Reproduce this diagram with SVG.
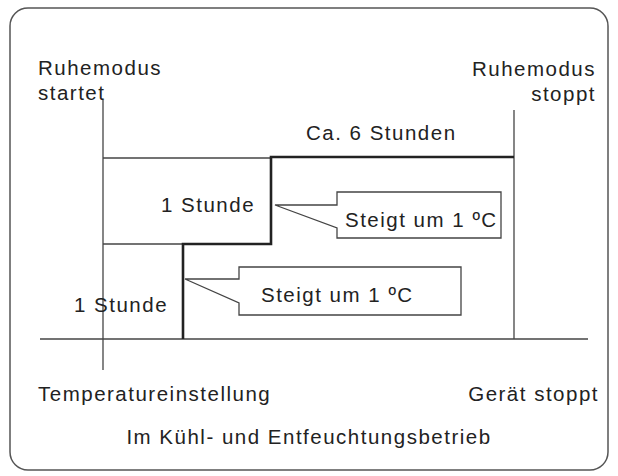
<svg xmlns="http://www.w3.org/2000/svg" width="618" height="476" viewBox="0 0 618 476">
<style>
text{font-family:"Liberation Sans",Arial,sans-serif;font-size:20.5px;letter-spacing:1.5px;fill:#222}
.t{stroke:#444;stroke-width:1.3;fill:none}
.k{stroke:#222;stroke-width:2.6;fill:none}
.c{stroke:#444;stroke-width:1.3;fill:#fff}
</style>
<rect x="10" y="8" width="598" height="462" rx="18" fill="#fff" stroke="#555" stroke-width="1.5"/>
<g id="connectors">
<line class="t" x1="103" y1="100" x2="103" y2="370"/>
<line class="t" x1="514" y1="110" x2="514" y2="339"/>
<line class="t" x1="40" y1="339" x2="588" y2="339"/>
<line class="t" x1="103" y1="158" x2="271" y2="158"/>
<line class="t" x1="103" y1="244" x2="183" y2="244"/>
<polyline class="k" points="514,157 271,157 271,244 183,244 183,339"/>
</g>
<g id="callout1"><polygon class="c" points="337,192 501,192 501,238 337,238 337,228 275,205 337,205"/><text x="345" y="227">Steigt um 1 ºC</text></g>
<g id="callout2"><polygon class="c" points="239,267 461,267 461,315 239,315 239,303 185,279 239,279"/><text x="261" y="302">Steigt um 1 ºC</text></g>
<g id="labels">
<text x="38" y="75">Ruhemodus</text><text x="38" y="100">startet</text>
<text x="596" y="76" text-anchor="end">Ruhemodus</text><text x="596" y="101" text-anchor="end">stoppt</text>
<text x="306" y="140">Ca. 6 Stunden</text>
<text x="161" y="212">1 Stunde</text>
<text x="74" y="312">1 Stunde</text>
<text x="38" y="401">Temperatureinstellung</text>
<text x="599" y="401" text-anchor="end">Gerät stoppt</text>
<text x="309" y="444" text-anchor="middle">Im Kühl- und Entfeuchtungsbetrieb</text>
</g>
</svg>
